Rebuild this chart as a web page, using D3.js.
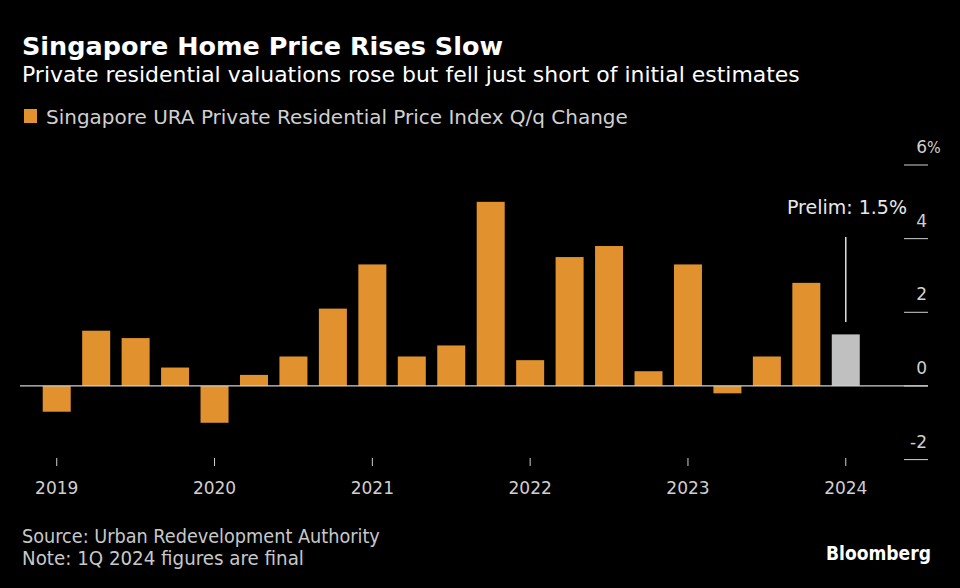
<!DOCTYPE html>
<html><head><meta charset="utf-8">
<script src="https://cdn.jsdelivr.net/npm/d3@7"></script>
<style>
html,body{margin:0;padding:0;background:#000;}
svg{display:block;}
</style></head>
<body>
<script>
const quarters = ["2019Q1","2019Q2","2019Q3","2019Q4","2020Q1","2020Q2","2020Q3","2020Q4",
  "2021Q1","2021Q2","2021Q3","2021Q4","2022Q1","2022Q2","2022Q3","2022Q4",
  "2023Q1","2023Q2","2023Q3","2023Q4","2024Q1"];
const values = [-0.7,1.5,1.3,0.5,-1.0,0.3,0.8,2.1,3.3,0.8,1.1,5.0,0.7,3.5,3.8,0.4,3.3,-0.2,0.8,2.8,1.4];
const yearTicks = ["2019Q1","2020Q1","2021Q1","2022Q1","2023Q1","2024Q1"];
const yearLabels = ["2019","2020","2021","2022","2023","2024"];
const yTicks = [-2,0,2,4,6];
const prelimValue = 1.5;
const finalQuarter = "2024Q1";

const W = 960, H = 588;
const svg = d3.select("body").append("svg").attr("width", W).attr("height", H);
svg.append("rect").attr("width", W).attr("height", H).attr("fill", "#000");

const orange = "#e1912d", gray = "#c0c0c0";
const F = "DejaVu Sans, Verdana, sans-serif";
const FC = "DejaVu Sans Condensed, DejaVu Sans, sans-serif";

function fit(sel, target) {
  const n = sel.node();
  const w = n.getComputedTextLength();
  if (w > 0) {
    const fs = parseFloat(sel.attr("font-size"));
    sel.attr("font-size", (fs * target / w).toFixed(2));
  }
  return sel;
}

const x = d3.scaleBand().domain(quarters).range([37, 865.5]).paddingInner(0.29).paddingOuter(0.145);
const y = d3.scaleLinear().domain([-2, 6]).range([459.6, 165]);

// titles
fit(svg.append("text").attr("x", 22).attr("y", 55).attr("fill", "#fff")
  .attr("font-size", 22).attr("font-weight", "bold").attr("font-family", F)
  .text("Singapore Home Price Rises Slow"), 481);
fit(svg.append("text").attr("x", 22).attr("y", 82).attr("fill", "#fff")
  .attr("font-size", 19).attr("font-family", F)
  .text("Private residential valuations rose but fell just short of initial estimates"), 778);
// legend
svg.append("rect").attr("x", 24).attr("y", 109).attr("width", 13).attr("height", 14).attr("fill", orange);
fit(svg.append("text").attr("x", 46).attr("y", 124).attr("fill", "#d0d0d0")
  .attr("font-size", 17).attr("font-family", F)
  .text("Singapore URA Private Residential Price Index Q/q Change"), 582);

// y axis ticks (right side)
const yAxis = svg.append("g");
yAxis.selectAll("line.yt").data(yTicks).join("line")
  .attr("x1", 904).attr("x2", 928)
  .attr("y1", d => y(d)).attr("y2", d => y(d))
  .attr("stroke", "#d0d0d0").attr("stroke-width", 1);
yAxis.selectAll("text.yl").data(yTicks).join("text")
  .attr("x", 927).attr("y", d => y(d) - 12)
  .attr("text-anchor", "end").attr("fill", "#d0d0d0").attr("font-size", 17)
  .attr("font-family", F)
  .text(d => d);
svg.append("text").attr("x", 927).attr("y", y(6) - 12).attr("fill", "#d0d0d0")
  .attr("font-size", 16).attr("font-family", FC).text("%");

// bars
svg.selectAll("rect.bar").data(quarters).join("rect")
  .attr("x", d => x(d)).attr("width", x.bandwidth())
  .attr("y", (d, i) => y(Math.max(0, values[i])))
  .attr("height", (d, i) => Math.abs(y(values[i]) - y(0)))
  .attr("fill", d => d === finalQuarter ? gray : orange);

// zero line
svg.append("line").attr("x1", 20).attr("x2", 928).attr("y1", y(0)).attr("y2", y(0))
  .attr("stroke", "#d0d0d0").attr("stroke-width", 1.2);

// x axis
svg.selectAll("line.xt").data(yearTicks).join("line")
  .attr("x1", d => x(d) + x.bandwidth() / 2).attr("x2", d => x(d) + x.bandwidth() / 2)
  .attr("y1", 458).attr("y2", 466).attr("stroke", "#d0d0d0");
svg.selectAll("text.xl").data(yearTicks).join("text")
  .attr("x", d => x(d) + x.bandwidth() / 2).attr("y", 494)
  .attr("text-anchor", "middle").attr("fill", "#d0d0d0").attr("font-size", 17)
  .attr("font-family", F)
  .text((d, i) => yearLabels[i]);

// annotation
const ax = x(finalQuarter) + x.bandwidth() / 2;
svg.append("line").attr("x1", ax).attr("x2", ax).attr("y1", 237).attr("y2", 322)
  .attr("stroke", "#e0e0e0").attr("stroke-width", 1.5);
fit(svg.append("text").attr("x", 787).attr("y", 214)
  .attr("fill", "#e8e8e8").attr("font-size", 17).attr("font-family", F)
  .text("Prelim: " + prelimValue + "%"), 120);

// footer
fit(svg.append("text").attr("x", 22).attr("y", 543).attr("fill", "#c8c8c8")
  .attr("font-size", 17).attr("font-family", FC)
  .text("Source: Urban Redevelopment Authority"), 358);
fit(svg.append("text").attr("x", 22).attr("y", 565).attr("fill", "#c8c8c8")
  .attr("font-size", 17).attr("font-family", FC)
  .text("Note: 1Q 2024 figures are final"), 282);
fit(svg.append("text").attr("x", 826).attr("y", 560).attr("fill", "#fff")
  .attr("font-size", 17).attr("font-weight", "bold")
  .attr("font-family", FC)
  .text("Bloomberg"), 105);
</script>
</body></html>
